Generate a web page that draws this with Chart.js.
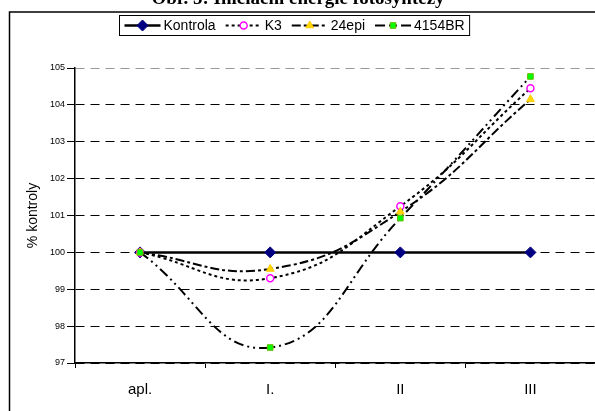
<!DOCTYPE html>
<html>
<head>
<meta charset="utf-8">
<script src="https://cdn.jsdelivr.net/npm/chart.js@4/dist/chart.umd.min.js"></script>
<style>
    html, body { margin: 0; padding: 0; background: #fff; overflow: hidden; }
    #wrap { width: 595px; height: 411px; overflow: hidden; position: relative; }
    canvas { display: block; }
</style>
</head>
<body>
<div id="wrap"><canvas id="fotoChart" width="602" height="411"></canvas></div>
<script>
const categories = ['apl.', 'I.', 'II', 'III'];
const kontrola = [100, 100, 100, 100];
const k3 = [100, 99.3, 101.25, 104.45];
const epi24 = [100, 99.55, 101.1, 104.15];
const br4154 = [100, 97.42, 100.93, 104.77];
const yMin = 97;
const yMax = 105;
const chartTitle = 'Obr. 5: Iniciační energie fotosyntézy';
const yTitle = '% kontroly';

// frame around the chart + title above it
const framePlugin = {
    id: 'frame',
    beforeDraw(chart) {
        const ctx = chart.ctx;
        ctx.save();
        ctx.fillStyle = '#fff';
        ctx.fillRect(0, 0, chart.width, chart.height);
        ctx.strokeStyle = '#000';
        ctx.lineWidth = 1.5;
        ctx.beginPath();
        ctx.moveTo(9.5, chart.height + 10);
        ctx.lineTo(9.5, 12);
        ctx.lineTo(chart.width + 10, 12);
        ctx.stroke();
        ctx.fillStyle = '#000';
        ctx.font = 'bold 19px "Liberation Serif", "Times New Roman", serif';
        ctx.textAlign = 'center';
        ctx.textBaseline = 'alphabetic';
        ctx.fillText(chartTitle, 298, 4);
        ctx.restore();
    }
};

// legend with line sample and marker, like the office style
const lineLegend = {
    id: 'lineLegend',
    afterDraw(chart) {
        const ctx = chart.ctx;
        const sets = chart.data.datasets;
        ctx.save();
        ctx.font = '14px "Liberation Sans", Arial, sans-serif';
        const sample = 36, gapText = 3, gapItem = 10, pad = 5;
        const widths = sets.map(ds => sample + gapText + ctx.measureText(ds.label).width);
        const total = widths.reduce((a, b) => a + b, 0) + gapItem * (sets.length - 1) + pad * 2;
        const boxX = Math.round(294.5 - total / 2) + 0.5;
        const boxY = 15.5, boxH = 20;
        ctx.fillStyle = '#fff';
        ctx.fillRect(boxX, boxY, total, boxH);
        ctx.strokeStyle = '#000';
        ctx.lineWidth = 1;
        ctx.strokeRect(boxX, boxY, total, boxH);
        let x = boxX + pad;
        const cy = boxY + boxH / 2;
        sets.forEach((ds, i) => {
            ctx.strokeStyle = '#000';
            ctx.lineWidth = ds.borderWidth;
            ctx.setLineDash(ds.borderDash || []);
            ctx.beginPath();
            ctx.moveTo(x, cy);
            ctx.lineTo(x + sample, cy);
            ctx.stroke();
            ctx.setLineDash([]);
            ctx.fillStyle = ds.pointBackgroundColor;
            ctx.strokeStyle = ds.pointBorderColor;
            ctx.lineWidth = ds.pointBorderWidth;
            Chart.helpers.drawPoint(ctx, {
                pointStyle: ds.pointStyle,
                radius: ds.pointRadius,
                rotation: 0,
                borderWidth: ds.pointBorderWidth
            }, x + sample / 2, cy);
            ctx.fillStyle = '#000';
            ctx.textAlign = 'left';
            ctx.textBaseline = 'middle';
            ctx.fillText(ds.label, x + sample + gapText, cy + 1);
            x += widths[i] + gapItem;
        });
        ctx.restore();
    }
};

new Chart(document.getElementById('fotoChart'), {
    type: 'line',
    data: {
        labels: categories,
        datasets: [{
            label: 'Kontrola',
            data: kontrola,
            borderColor: '#000',
            borderWidth: 2.5,
            pointStyle: 'rectRot',
            pointRadius: 5.5,
            pointBackgroundColor: '#000080',
            pointBorderColor: '#000080',
            pointBorderWidth: 1,
            tension: 0,
            order: 4
        }, {
            label: 'K3',
            data: k3,
            borderColor: '#000',
            borderWidth: 2,
            borderDash: [3, 3],
            pointStyle: 'circle',
            pointRadius: 3.5,
            pointBackgroundColor: '#fff',
            pointBorderColor: '#FF00FF',
            pointBorderWidth: 1.5,
            tension: 0.45,
            order: 3
        }, {
            label: '24epi',
            data: epi24,
            borderColor: '#000',
            borderWidth: 2,
            borderDash: [9, 3, 3, 3],
            pointStyle: 'triangle',
            pointRadius: 4.5,
            pointBackgroundColor: '#FFD700',
            pointBorderColor: '#FFCC00',
            pointBorderWidth: 1,
            tension: 0.45,
            order: 2
        }, {
            label: '4154BR',
            data: br4154,
            borderColor: '#000',
            borderWidth: 2,
            borderDash: [10, 4, 2, 4, 2, 4],
            pointStyle: 'rect',
            pointRadius: 4,
            pointBackgroundColor: '#00FF00',
            pointBorderColor: '#66BB00',
            pointBorderWidth: 1,
            tension: 0.45,
            order: 1
        }]
    },
    options: {
        responsive: false,
        animation: false,
        devicePixelRatio: 1,
        layout: {
            padding: { top: 68, right: 5, bottom: 0, left: 0 }
        },
        plugins: {
            legend: { display: false },
            title: { display: false },
            tooltip: { enabled: false }
        },
        scales: {
            x: {
                offset: true,
                afterFit: function(scale) { scale.height = 48; },
                grid: {
                    offset: true,
                    drawOnChartArea: false,
                    drawTicks: true,
                    tickLength: 5,
                    tickColor: '#000'
                },
                border: { display: true, color: '#000', width: 1.5 },
                ticks: {
                    color: '#000',
                    padding: 13,
                    font: { family: '"Liberation Sans", Arial, sans-serif', size: 15 }
                }
            },
            y: {
                min: yMin,
                max: yMax,
                afterFit: function(scale) { scale.width = 75; },
                grid: {
                    color: ctx => (ctx.tick && ctx.tick.value === yMax) ? '#999' : '#000',
                    lineWidth: 1,
                    drawTicks: true,
                    tickLength: 8,
                    tickColor: '#000',
                    tickBorderDash: [10, 0]
                },
                // in v4 border.dash sets the dash of the grid lines
                border: { display: true, color: '#000', width: 1.5, dash: [9, 6] },
                ticks: {
                    stepSize: 1,
                    color: '#000',
                    padding: 2,
                    font: { family: '"Liberation Sans", Arial, sans-serif', size: 9 }
                },
                title: {
                    display: true,
                    text: yTitle,
                    color: '#000',
                    padding: { top: 25, bottom: 0 },
                    font: { family: '"Liberation Sans", Arial, sans-serif', size: 14 }
                }
            }
        }
    },
    plugins: [framePlugin, lineLegend]
});
</script>
</body>
</html>
